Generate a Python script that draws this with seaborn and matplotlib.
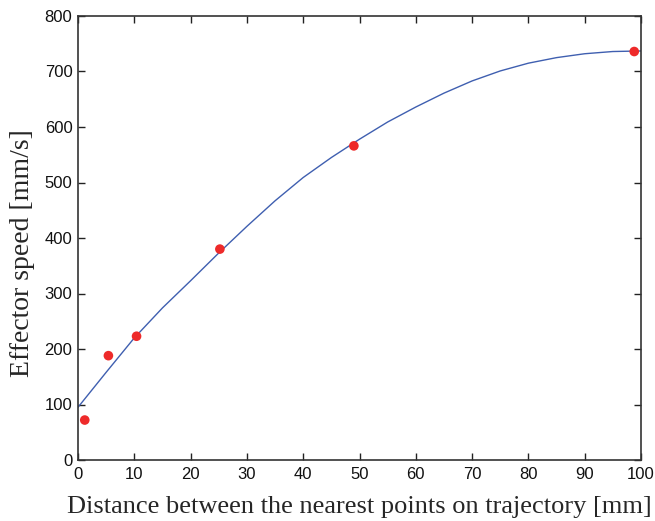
import matplotlib
matplotlib.use("Agg")
import matplotlib.pyplot as plt
import seaborn as sns
import pandas as pd

# measured points
dist_mm = [1.2, 5.4, 10.4, 25.2, 49.0, 98.8]
speed_mm_s = [72, 188, 223, 380, 566, 736]

# fitted curve
fit_x = [0, 5, 10, 15, 20, 25, 30, 35, 40, 45, 50,
         55, 60, 65, 70, 75, 80, 85, 90, 95, 100]
fit_y = [95, 158, 220, 274, 323, 373, 421, 467, 509, 545, 578,
         609, 636, 661, 683, 701, 715, 725, 732, 736, 737]

x_ticks = [0, 10, 20, 30, 40, 50, 60, 70, 80, 90, 100]
y_ticks = [0, 100, 200, 300, 400, 500, 600, 700, 800]

sns.set_style("ticks")
plt.rcParams['font.family'] = ['Liberation Sans', 'DejaVu Sans']

fig = plt.figure(figsize=(6.55, 5.21), dpi=100)
ax = fig.add_axes([78/655, 1-460/521, (641-78)/655, (460-16)/521])

df_fit = pd.DataFrame({"x": fit_x, "y": fit_y})
df_pts = pd.DataFrame({"x": dist_mm, "y": speed_mm_s})

sns.lineplot(data=df_fit, x="x", y="y", ax=ax, color="#3f5fb0", linewidth=1.0)
sns.scatterplot(data=df_pts, x="x", y="y", ax=ax, color="#ee2a2a", s=48,
                edgecolor="none", zorder=3)

ax.set_xlim(0, 100)
ax.set_ylim(0, 800)
ax.set_xticks(x_ticks)
ax.set_yticks(y_ticks)
ax.tick_params(direction="in", top=True, right=True, length=5, width=1,
               labelsize=12, colors="#222222", labelcolor="#111111")
ax.tick_params(axis="x", pad=5)
ax.tick_params(axis="y", pad=4)
for s in ax.spines.values():
    s.set_linewidth(1.2)
    s.set_color("#333333")

ax.set_xlabel("Distance between the nearest points on trajectory [mm]",
              family="Liberation Serif", fontsize=19)
ax.set_ylabel("Effector speed [mm/s]", family="Liberation Serif",
              fontsize=20)
ax.xaxis.set_label_coords(0.5, -0.08)
ax.yaxis.set_label_coords(-0.076, 0.466)

fig.savefig("out.png", dpi=100)
